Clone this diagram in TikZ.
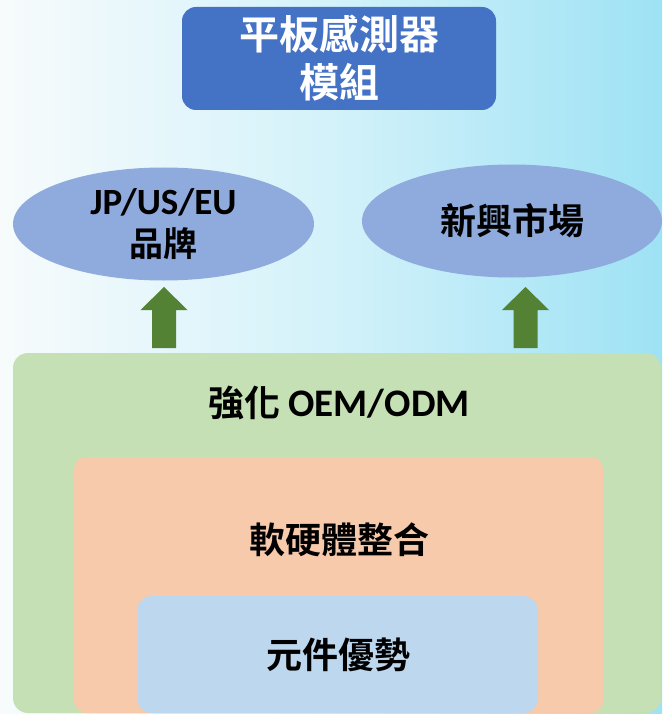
\documentclass[tikz,border=0pt]{standalone}
\usepackage{fontspec}
\setmainfont{Carlito}
\newfontfamily\cjk{Noto Sans CJK TC}[BoldFont=* Bold]
\usetikzlibrary{shapes.geometric}
\definecolor{topblue}{HTML}{4472C4}
\definecolor{ellblue}{HTML}{8FAADC}
\definecolor{arrgreen}{HTML}{548235}
\definecolor{boxgreen}{HTML}{C5E0B4}
\definecolor{boxorange}{HTML}{F7CAAC}
\definecolor{boxblue}{HTML}{BDD7EE}
\definecolor{bgleft}{HTML}{F7FBFC}
\definecolor{bgright}{HTML}{9EE2F4}
\tikzset{
  lbl/.style={font=\bfseries\fontsize{36}{42}\selectfont, text=black, align=center},
  ellnode/.style={ellipse, fill=ellblue, inner sep=0pt},
  blockarr/.style={fill=arrgreen, draw=none},
}
\newcommand{\blockarrowat}[1]{%
  \fill[blockarr] (#1) ++(-12,61) -- ++(0,-38) -- ++(-11.5,0) -- ++(23.5,-23) -- ++(23.5,23) -- ++(-11.5,0) -- ++(0,38) -- cycle;}
\begin{document}
\begin{tikzpicture}[x=1pt,y=-1pt]
\useasboundingbox (0,0) rectangle (662,714);
\shade[left color=bgleft, right color=bgright, middle color=white!55!bgright] (0,0) rectangle (662,714);
% top box
\node[fill=topblue, rounded corners=14pt, minimum width=314pt, minimum height=103pt, inner sep=0pt,
      text=white, font=\bfseries\fontsize{40}{48}\selectfont, align=center] (top) at (339,58.5)
  {{\cjk 平板感測器}\\{\cjk 模組}};
% ellipses
\node[ellnode, minimum width=301pt, minimum height=113pt] (brand) at (163.5,224) {};
\node[lbl, font=\bfseries\fontsize{37}{42}\selectfont] at (brand) {JP/US/EU\\{\cjk\fontsize{34}{42}\selectfont 品牌}};
\node[ellnode, minimum width=300pt, minimum height=113pt] (emerg) at (512,221) {};
\node[lbl] at (emerg) {\cjk 新興市場};
% arrows
\coordinate (a1) at (164,287);
\coordinate (a2) at (525.5,287);
\blockarrowat{a1}
\blockarrowat{a2}
% nested boxes
\node[fill=boxgreen, rounded corners=15pt, minimum width=648pt, minimum height=360pt, inner sep=0pt] (oem) at (337,533) {};
\node[lbl] (oemt) at (339,403) {{\cjk 強化} {\fontsize{39}{42}\selectfont OEM/ODM}};
\node[fill=boxorange, rounded corners=12pt, minimum width=529pt, minimum height=256pt, inner sep=0pt] (integ) at (338.5,585) {};
\node[lbl] (integt) at (339,540) {\cjk 軟硬體整合};
\node[fill=boxblue, rounded corners=15pt, minimum width=401pt, minimum height=117pt, inner sep=0pt] (comp) at (337.5,654.5) {};
\node[lbl] (compt) at (338,655) {\cjk 元件優勢};
\end{tikzpicture}
\end{document}
